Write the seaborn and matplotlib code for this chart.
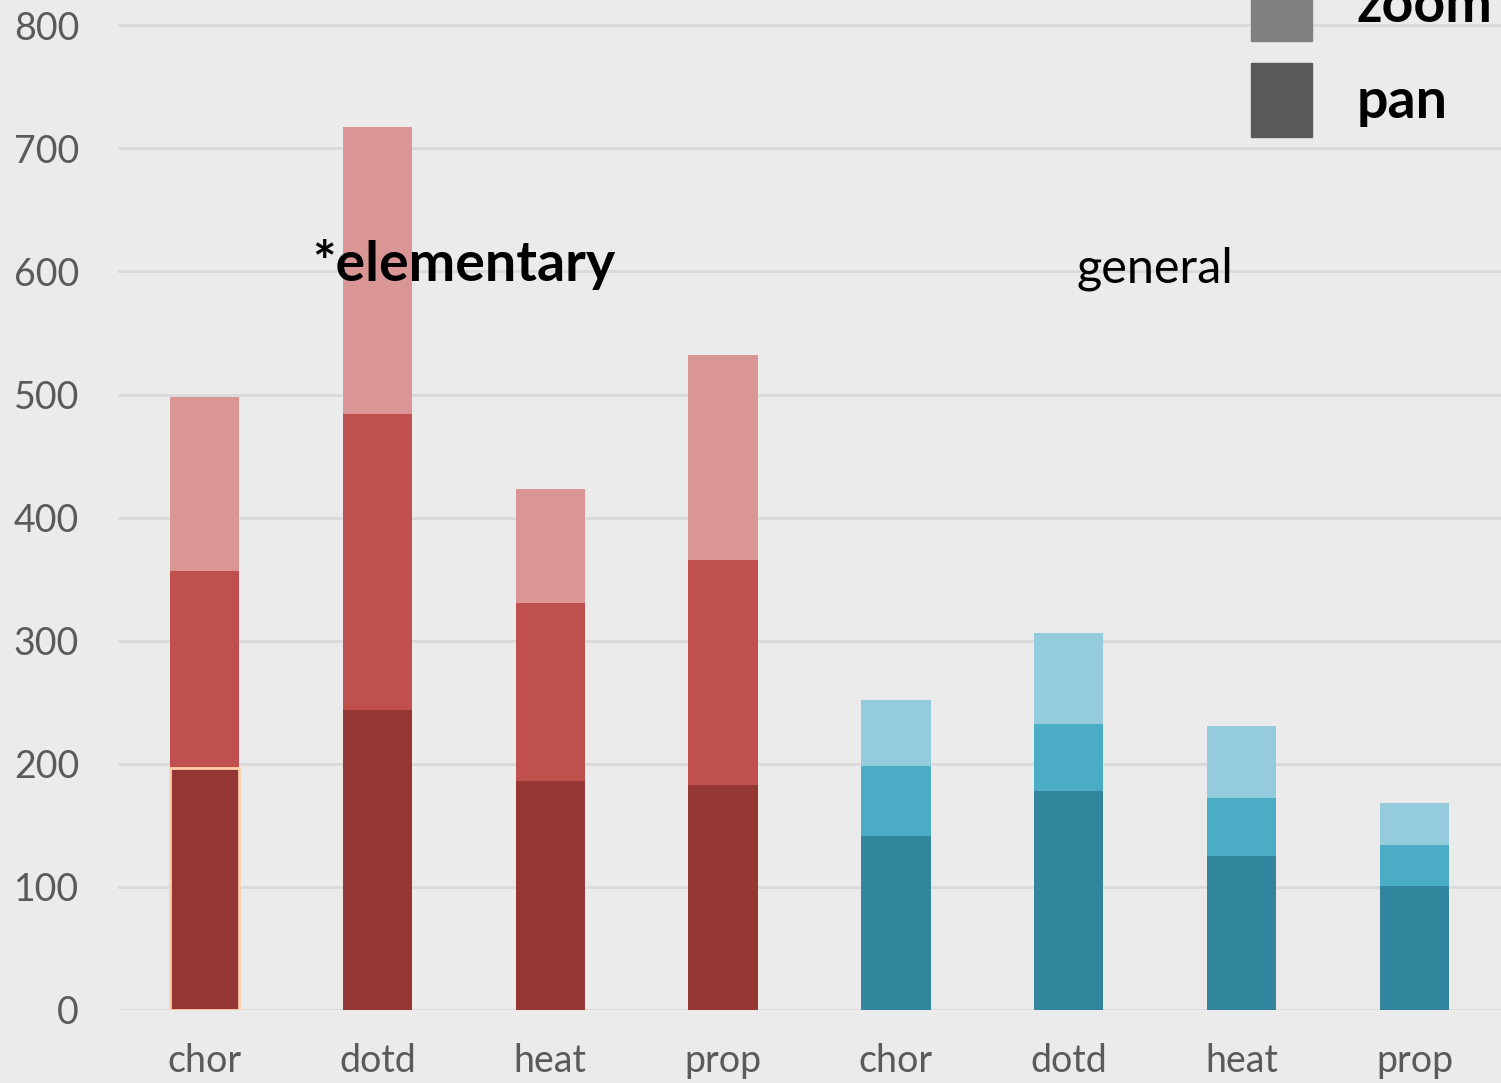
import pandas as pd
import matplotlib
matplotlib.use("Agg")
import matplotlib.pyplot as plt
import seaborn as sns
from matplotlib.patches import Patch

sns.set_style("white")
plt.rcParams['font.family'] = ['Lato', 'DejaVu Sans']

# data (segment heights, bottom to top)
bar_ids = ["el_chor", "el_dotd", "el_heat", "el_prop", "ge_chor", "ge_dotd", "ge_heat", "ge_prop"]
tick_labels = ["chor", "dotd", "heat", "prop", "chor", "dotd", "heat", "prop"]
pan = [197, 244, 186, 183, 141, 178, 125, 101]
zoom = [160, 240, 145, 183, 57, 54, 47, 33]
other = [141, 233, 92, 166, 54, 74, 59, 34]
groups = ["elementary", "elementary", "elementary", "elementary", "general", "general", "general", "general"]

red = {"dark": "#953735", "mid": "#C0504D", "light": "#DA9694"}
blue = {"dark": "#31869E", "mid": "#4BACC6", "light": "#95CCDD"}
bg = "#EBEBEB"

df = pd.DataFrame({"id": bar_ids, "pan": pan, "zoom": zoom, "other": other, "group": groups})
df["lvl1"] = df["pan"]
df["lvl2"] = df["pan"] + df["zoom"]
df["lvl3"] = df["lvl2"] + df["other"]

fig = plt.figure(figsize=(15.01, 10.83), dpi=100)
fig.patch.set_facecolor(bg)
ax = fig.add_axes([118 / 1501, 73 / 1083, 1383 / 1501, 1157 / 1083])
ax.set_facecolor(bg)

ymax = 940
for y in range(0, 900, 100):
    ax.axhline(y, color="#DADADA", lw=2, zorder=0)

for col, shade in [("lvl3", "light"), ("lvl2", "mid"), ("lvl1", "dark")]:
    pal = {i: (red if g == "elementary" else blue)[shade] for i, g in zip(df["id"], df["group"])}
    sns.barplot(data=df, x="id", y=col, hue="id", palette=pal, order=bar_ids,
                width=0.4, saturation=1, legend=False, ax=ax, zorder=2, linewidth=0)

# highlighted first bottom segment
first_dark = ax.patches[-8]
first_dark.set_edgecolor("#FFD0A8")
first_dark.set_linewidth(2)

ax.set_xlim(-0.5, 7.5)
ax.set_ylim(0, ymax)
ax.set_yticks(range(0, 900, 100))
ax.set_xticks(range(8))
ax.set_xticklabels(tick_labels)
ax.tick_params(axis="both", length=0, labelsize=27, colors="#5A5A5A")
ax.tick_params(axis="y", pad=28)
ax.tick_params(axis="x", pad=24)
ax.set_xlabel("")
ax.set_ylabel("")
for s in ax.spines.values():
    s.set_visible(False)

ax.text(1.5, 606, "*elementary", fontsize=40, fontweight="bold", color="black",
        ha="center", va="center", zorder=5)
ax.text(5.5, 602, "general", fontsize=35, color="black", ha="center", va="center", zorder=5)

handles = [Patch(color="#B0B0B0", label="other"),
           Patch(color="#808080", label="zoom"),
           Patch(color="#5A5A5A", label="pan")]
leg = ax.legend(handles=handles, loc="upper right", bbox_to_anchor=(1.03, 1.028),
                frameon=False, prop={"size": 40, "weight": "bold"},
                handlelength=1.1, handleheight=1.67, labelspacing=0.4, handletextpad=0.8)
for t in leg.get_texts():
    t.set_color("black")

plt.savefig("out.png", dpi=100, facecolor=bg)
